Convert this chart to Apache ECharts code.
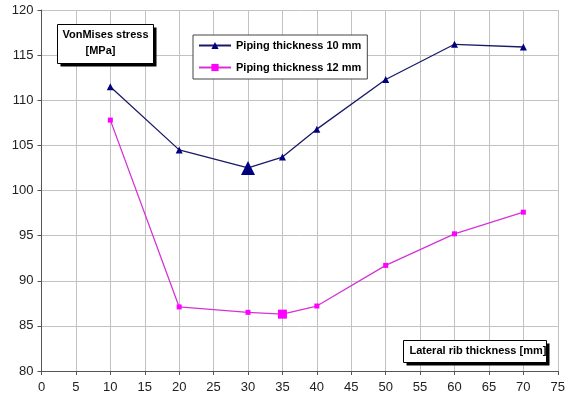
<!DOCTYPE html>
<html>
<head>
<meta charset="utf-8">
<script src="https://cdn.jsdelivr.net/npm/echarts@6/dist/echarts.min.js"></script>
<style>
  html, body { margin: 0; padding: 0; background: #fff; }
  #chart { width: 568px; height: 398px; }
</style>
</head>
<body>
<div id="chart"></div>
<script>
// Lateral rib thickness [mm]
const ribThickness = [10, 20, 30, 35, 40, 50, 60, 70];
// VonMises stress [MPa] for each piping thickness
const piping10 = [111.5, 104.5, 102.5, 103.7, 106.8, 112.3, 116.2, 115.9];
const piping12 = [107.8, 87.1, 86.5, 86.3, 87.2, 91.7, 95.2, 97.6];
const seriesNames = ['Piping thickness 10 mm', 'Piping thickness 12 mm'];
// Optimum points drawn with a larger marker
const highlight10 = 30;
const highlight12 = 35;

const FONT = '"Liberation Sans", Arial, sans-serif';

function toPoints(values, bigAt, small, big) {
  return ribThickness.map((x, i) => ({
    value: [x, values[i]],
    symbolSize: x === bigAt ? big : small
  }));
}

const chart = echarts.init(document.getElementById('chart'), null, { renderer: 'canvas' });

function noteBox(x, y, w, h, lines) {
  return {
    type: 'group',
    left: x, top: y,
    z: 100,
    children: [
      { type: 'rect', z: 100, shape: { x: 3, y: 3, width: w, height: h }, style: { fill: '#000' } },
      { type: 'rect', z: 101, shape: { x: 0, y: 0, width: w, height: h }, style: { fill: '#fff', stroke: '#000', lineWidth: 1 } },
      ...lines.map(l => ({
        type: 'text', z: 102, x: l.x, y: l.y,
        style: { text: l.text, font: 'bold 11px ' + FONT, fill: '#000' }
      }))
    ]
  };
}

chart.setOption({
  animation: false,
  grid: { left: 41.5, right: 5, top: 10, bottom: 27 },
  xAxis: {
    type: 'value', min: 0, max: 75, interval: 5,
    axisLine: { show: true, lineStyle: { color: '#555', width: 1 } },
    axisTick: { show: true, length: 4, lineStyle: { color: '#555' } },
    axisLabel: { color: '#222', fontSize: 13, fontFamily: FONT, margin: 10 },
    splitLine: { show: true, lineStyle: { color: '#c2c2c2', width: 1 } }
  },
  yAxis: {
    type: 'value', min: 80, max: 120, interval: 5,
    axisLine: { show: true, lineStyle: { color: '#555', width: 1 } },
    axisTick: { show: true, length: 4, lineStyle: { color: '#555' } },
    axisLabel: { color: '#222', fontSize: 13, fontFamily: FONT, margin: 8 },
    splitLine: { show: true, lineStyle: { color: '#c2c2c2', width: 1 } }
  },
  legend: {
    orient: 'vertical',
    left: 193, top: 35,
    width: 175,
    padding: [5, 6, 6, 5],
    itemGap: 11,
    itemWidth: 32, itemHeight: 9,
    borderColor: '#444', borderWidth: 1,
    backgroundColor: '#fff',
    textStyle: { fontFamily: FONT, fontSize: 11, fontWeight: 'bold', color: '#000' },
    data: seriesNames
  },
  graphic: [
    noteBox(57, 24, 96, 39, [
      { x: 5, y: 5, text: 'VonMises stress' },
      { x: 28, y: 21, text: '[MPa]' }
    ]),
    noteBox(403, 340, 143, 22, [
      { x: 6, y: 5, text: 'Lateral rib thickness [mm]' }
    ])
  ],
  series: [
    {
      name: seriesNames[0], type: 'line',
      data: toPoints(piping10, highlight10, 7, 14),
      symbol: 'triangle',
      itemStyle: { color: '#000080' },
      lineStyle: { color: '#1a1a66', width: 1.3 },
      z: 3
    },
    {
      name: seriesNames[1], type: 'line',
      data: toPoints(piping12, highlight12, 5, 9),
      symbol: 'rect',
      itemStyle: { color: '#ff00ff' },
      lineStyle: { color: '#d633d6', width: 1.3 },
      z: 3
    }
  ]
});
</script>
</body>
</html>
